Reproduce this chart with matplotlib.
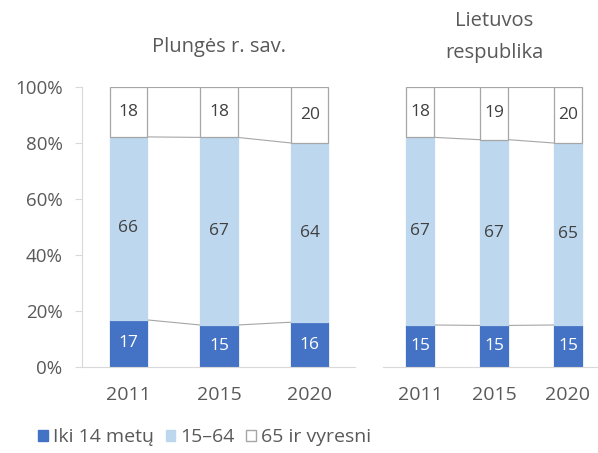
import matplotlib.pyplot as plt
from matplotlib.patches import Patch
import numpy as np

plt.rcParams['font.family'] = ['Open Sans', 'DejaVu Sans']

years = ['2011', '2015', '2020']
series = ['Iki 14 metų', '15–64', '65 ir vyresni']
plunge = {'Iki 14 metų': [17, 15, 16], '15–64': [66, 67, 64], '65 ir vyresni': [18, 18, 20]}
lietuva = {'Iki 14 metų': [15, 15, 15], '15–64': [67, 67, 65], '65 ir vyresni': [18, 19, 20]}
titles = ['Plungės r. sav.', 'Lietuvos\nrespublika']

colors = ['#4472C4', '#BDD7EE', 'white']
edges = ['#4472C4', '#BDD7EE', '#A6A6A6']
txt_colors = ['white', '#404040', '#404040']
gray = '#595959'

fig = plt.figure(figsize=(5.98, 4.53), dpi=100)
ax1 = fig.add_axes([82 / 598, 86 / 453, 273 / 598, 280 / 453])
ax2 = fig.add_axes([383 / 598, 86 / 453, 222 / 598, 280 / 453])


def draw(ax, data, width, title, title_y):
    x = np.arange(len(years))
    vals = np.array([data[s] for s in series], dtype=float)
    frac = vals / vals.sum(axis=0)
    bottom = np.zeros(len(years))
    for i, s in enumerate(series):
        ax.bar(x, frac[i], width, bottom=bottom, color=colors[i],
               edgecolor=edges[i], linewidth=0.9, zorder=2)
        for j in range(len(years)):
            ax.text(x[j], bottom[j] + frac[i][j] / 2, str(int(vals[i][j])),
                    ha='center', va='center', fontsize=12.5, color=txt_colors[i])
        bottom = bottom + frac[i]
        # series lines between bars
        for j in range(len(years) - 1):
            ax.plot([x[j] + width / 2, x[j + 1] - width / 2], [bottom[j], bottom[j + 1]],
                    color='#A6A6A6', lw=0.8, zorder=1)
    ax.set_ylim(0, 1)
    ax.set_xlim(-0.5, 2.5)
    ax.set_xticks(x)
    ax.set_xticklabels(years, fontsize=14, color=gray)
    ax.tick_params(axis='x', length=0, pad=14)
    for sp in ['top', 'right']:
        ax.spines[sp].set_visible(False)
    ax.spines['bottom'].set_color('#D9D9D9')
    ax.spines['left'].set_color('#D9D9D9')
    ax.text(1, title_y, title, transform=ax.transData, ha='center', va='center',
            fontsize=14.5, color=gray, linespacing=1.85, clip_on=False)


draw(ax1, plunge, 0.41, titles[0], 1.143)
draw(ax2, lietuva, 0.39, titles[1], 1.179)

ax1.set_xlim(-0.51, 2.5)
ax1.set_yticks(np.arange(0, 1.01, 0.2))
ax1.set_yticklabels([f'{int(round(v * 100))}%' for v in np.arange(0, 1.01, 0.2)], fontsize=13.5, color=gray)
ax1.tick_params(axis='y', length=5, color='#D9D9D9', pad=9)

ax2.spines['left'].set_visible(False)
ax2.set_yticks([])

handles = [Patch(facecolor=colors[i], edgecolor=edges[i] if i == 2 else colors[i], label=series[i])
           for i in range(3)]
fig.legend(handles=handles, loc='center left', bbox_to_anchor=(0.035, 16 / 453), ncol=3,
           frameon=False, fontsize=14, handlelength=0.5, handleheight=0.5,
           handletextpad=0.25, columnspacing=0.6, labelcolor=gray)

plt.savefig('out.png', dpi=100)
